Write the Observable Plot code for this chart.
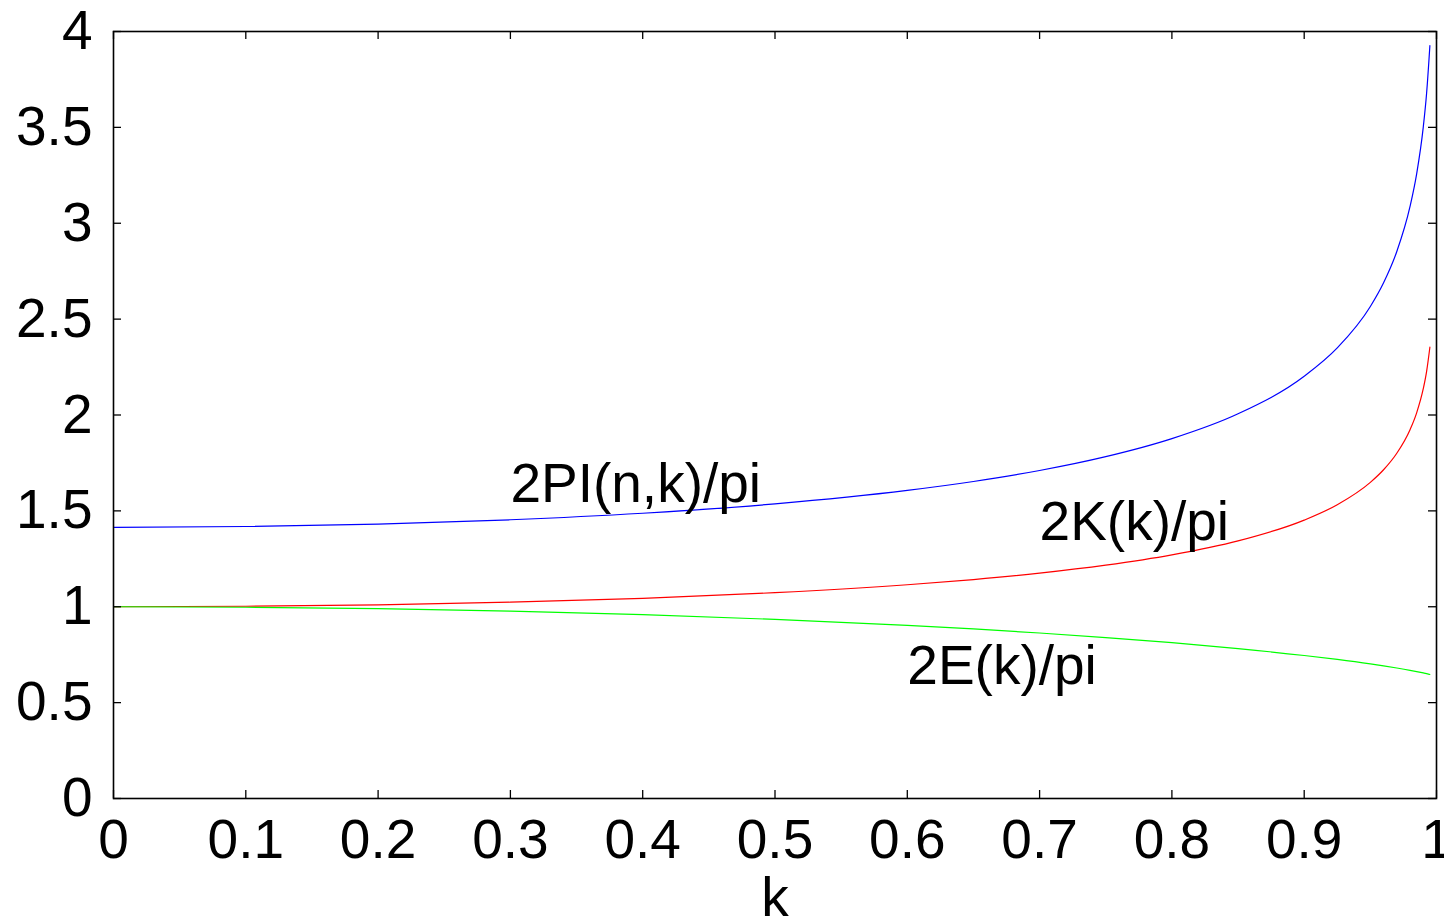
<!DOCTYPE html>
<html>
<head>
<meta charset="utf-8">
<script src="https://cdn.jsdelivr.net/npm/d3@7"></script>
<script src="https://cdn.jsdelivr.net/npm/@observablehq/plot@0.6"></script>
<style>
html, body { margin: 0; padding: 0; background: #fff; overflow: hidden; }
</style>
</head>
<body>
<div id="chart"></div>
<script>
// Sample positions along k
const kValues = [0, 0.1, 0.2, 0.3, 0.4, 0.5, 0.6, 0.65, 0.7, 0.75, 0.8, 0.85, 0.9, 0.925, 0.95, 0.96, 0.97, 0.98, 0.985, 0.99, 0.9925, 0.995];
// 2PI(n,k)/pi (blue)
const piCurve = [1.4142, 1.4184, 1.4312, 1.4536, 1.4876, 1.5366, 1.6068, 1.6532, 1.7105, 1.7826, 1.8767, 2.0062, 2.2021, 2.3498, 2.5660, 2.6898, 2.8526, 3.0876, 3.2577, 3.5013, 3.6765, 3.9259];
// 2K(k)/pi (red)
const kCurve = [1.0000, 1.0025, 1.0102, 1.0237, 1.0441, 1.0732, 1.1146, 1.1418, 1.1750, 1.2166, 1.2702, 1.3432, 1.4518, 1.5321, 1.6488, 1.7145, 1.8004, 1.9232, 2.0114, 2.1369, 2.2265, 2.3535];
// 2E(k)/pi (green)
const eCurve = [1.0000, 0.9975, 0.9899, 0.9771, 0.9587, 0.9342, 0.9028, 0.8841, 0.8630, 0.8394, 0.8125, 0.7818, 0.7459, 0.7253, 0.7020, 0.6917, 0.6806, 0.6685, 0.6619, 0.6547, 0.6509, 0.6468];

const seriesNames = ["2PI(n,k)/pi", "2K(k)/pi", "2E(k)/pi"];
const seriesColors = ["#0000ff", "#ff0000", "#00ff00"];

// In-plot labels
const labelText = ["2PI(n,k)/pi", "2K(k)/pi", "2E(k)/pi"];
const labelK = [0.3, 0.7, 0.6];
const labelV = [1.65, 1.45, 0.70];

const xTicks = [0, 0.1, 0.2, 0.3, 0.4, 0.5, 0.6, 0.7, 0.8, 0.9, 1];
const xTickLabels = ["0", "0.1", "0.2", "0.3", "0.4", "0.5", "0.6", "0.7", "0.8", "0.9", "1"];
const yTicks = [0, 0.5, 1, 1.5, 2, 2.5, 3, 3.5, 4];
const yTickLabels = ["0", "0.5", "1", "1.5", "2", "2.5", "3", "3.5", "4"];
const xTitle = ["k"];

const allSeries = [piCurve, kCurve, eCurve];
const rows = allSeries.flatMap((vals, s) => kValues.map((k, i) => ({k, v: vals[i], s: seriesNames[s]})));
const labels = labelText.map((t, i) => ({t, k: labelK[i], v: labelV[i]}));

const W = 1444, H = 920;
const mL = 113, mR = 8, mT = 31, mB = 122;
const fw = W - mL - mR, fh = H - mT - mB;
const tick = 8;

const chart = Plot.plot({
  width: W,
  height: H,
  marginLeft: mL,
  marginRight: mR,
  marginTop: mT,
  marginBottom: mB,
  style: {fontFamily: "'Liberation Sans', Arial, Helvetica, sans-serif", fontSize: "55px", color: "black", background: "white"},
  x: {domain: [0, 1], ticks: xTicks, tickFormat: (d, i) => xTickLabels[i], tickSize: 0, tickPadding: 20, label: null},
  y: {domain: [0, 4], ticks: yTicks, tickFormat: (d, i) => yTickLabels[i], tickSize: 0, tickPadding: 21, label: null},
  color: {domain: seriesNames, range: seriesColors},
  marks: [
    Plot.line(rows, {x: "k", y: "v", z: "s", stroke: "s", strokeWidth: 1.2, curve: "monotone-x"}),
    Plot.text(labels, {x: "k", y: "v", text: "t", textAnchor: "start", dy: 2, fontSize: 55, fill: "black"}),
    Plot.tickX(xTicks, {x: d => d, insetTop: fh - tick, stroke: "black", strokeWidth: 1.3}),
    Plot.tickX(xTicks, {x: d => d, insetBottom: fh - tick, stroke: "black", strokeWidth: 1.3}),
    Plot.tickY(yTicks, {y: d => d, insetRight: fw - tick, stroke: "black", strokeWidth: 1.3}),
    Plot.tickY(yTicks, {y: d => d, insetLeft: fw - tick, stroke: "black", strokeWidth: 1.3}),
    Plot.frame({stroke: "black", strokeWidth: 1.6}),
    Plot.text(xTitle, {text: d => d, frameAnchor: "bottom", dy: 117, lineAnchor: "bottom", fontSize: 55, fill: "black"})
  ]
});
document.getElementById("chart").appendChild(chart);
</script>
</body>
</html>
